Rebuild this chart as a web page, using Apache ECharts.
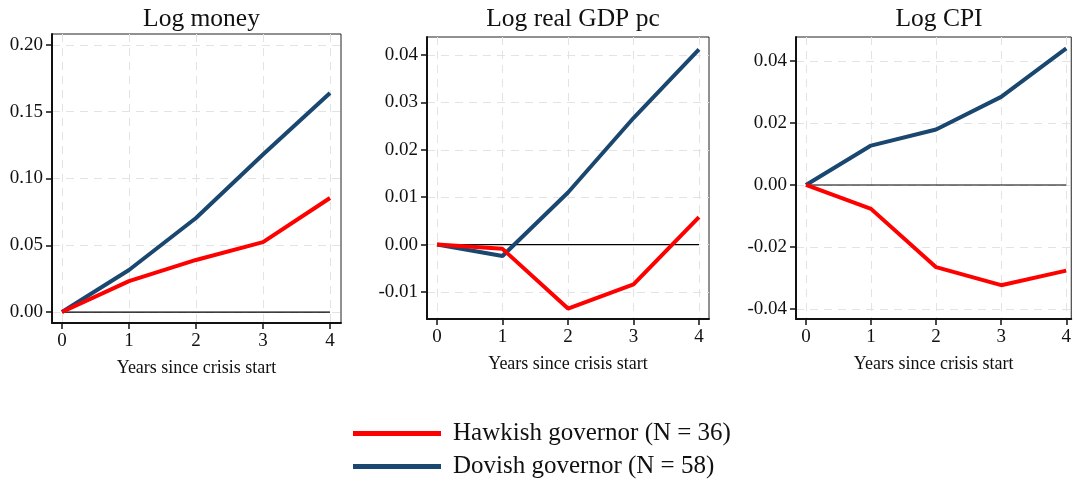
<!DOCTYPE html>
<html>
<head>
<meta charset="utf-8">
<script src="https://cdn.jsdelivr.net/npm/echarts@6/dist/echarts.min.js"></script>
<style>
html,body{margin:0;padding:0;background:#fff;}
#chart{width:1074px;height:481px;}
</style>
</head>
<body>
<div id="chart"></div>
<script>
// ---- data ----
const years = [0, 1, 2, 3, 4];
const seriesNames = ['Hawkish governor (N = 36)', 'Dovish governor (N = 58)'];
const panelTitles = ['Log money', 'Log real GDP pc', 'Log CPI'];
const xAxisTitle = 'Years since crisis start';

const moneyHawkish = [0, 0.0232, 0.0390, 0.0524, 0.0854];
const moneyDovish  = [0, 0.0315, 0.0704, 0.1180, 0.1640];
const gdpHawkish   = [0, -0.0009, -0.0135, -0.0084, 0.0058];
const gdpDovish    = [0, -0.0024, 0.0110, 0.0267, 0.0412];
const cpiHawkish   = [0, -0.0077, -0.0265, -0.0323, -0.0276];
const cpiDovish    = [0, 0.0127, 0.0179, 0.0284, 0.0440];
const zeroLine     = [0, 0, 0, 0, 0];

const moneyTicks = [0, 0.05, 0.10, 0.15, 0.20];
const gdpTicks   = [-0.01, 0, 0.01, 0.02, 0.03, 0.04];
const cpiTicks   = [-0.04, -0.02, 0, 0.02, 0.04];
const xTicks     = [0, 1, 2, 3, 4];

// ---- layout ----
const FONT = 'Liberation Serif';
const RED = '#ff0000';
const NAVY = '#1a476f';
const panels = [
  {grid:{left:52, top:34, width:289, height:289}, xMin:-0.149, xMax:4.164, yMin:-0.0082, yMax:0.2082, ticks:moneyTicks, hawk:moneyHawkish, dove:moneyDovish},
  {grid:{left:427, top:37, width:282, height:282}, xMin:-0.153, xMax:4.153, yMin:-0.0157, yMax:0.0438, ticks:gdpTicks, hawk:gdpHawkish, dove:gdpDovish},
  {grid:{left:796, top:37, width:276, height:282}, xMin:-0.153, xMax:4.077, yMin:-0.0432, yMax:0.0477, ticks:cpiTicks, hawk:cpiHawkish, dove:cpiDovish}
];

const pairs = arr => years.map((x, i) => [x, arr[i]]);
const gridLine = {show:true, lineStyle:{color:'#e3e3e3', width:1, type:[8,6]}};

const option = {
  animation:false,
  backgroundColor:'#fff',
  title: panels.map((p, i) => ({
    text: panelTitles[i],
    left: p.grid.left + p.grid.width/2,
    top: 1,
    textAlign:'center',
    textStyle:{fontFamily:FONT, fontSize:25.5, fontWeight:'normal', color:'#111'}
  })),
  grid: panels.map(p => Object.assign({show:true, borderColor:'#222', borderWidth:1, backgroundColor:'#fff', containLabel:false}, p.grid)),
  xAxis: panels.map((p, i) => ({
    type:'value', gridIndex:i, min:p.xMin, max:p.xMax,
    name: xAxisTitle, nameLocation:'middle', nameGap:36,
    nameTextStyle:{fontFamily:FONT, fontSize:18, color:'#111'},
    axisLine:{show:true, onZero:false, lineStyle:{color:'#111', width:2}},
    axisTick:{show:true, inside:false, length:6, lineStyle:{color:'#111', width:1.5}, customValues:xTicks},
    axisLabel:{fontFamily:FONT, fontSize:19, color:'#111', margin:9, customValues:xTicks, formatter:v => String(v)},
    splitLine:gridLine
  })),
  yAxis: panels.map((p, i) => ({
    type:'value', gridIndex:i, min:p.yMin, max:p.yMax,
    axisLine:{show:true, onZero:false, lineStyle:{color:'#111', width:2}},
    axisTick:{show:true, inside:false, length:6, lineStyle:{color:'#111', width:1.5}, customValues:p.ticks},
    axisLabel:{fontFamily:FONT, fontSize:19, color:'#111', margin:9, customValues:p.ticks, formatter:v => v.toFixed(2)},
    splitLine:gridLine
  })),
  legend:{
    data: seriesNames,
    orient:'vertical', left:353, top:421, padding:0, height:70,
    icon:'rect', itemWidth:88, itemHeight:5, itemGap:8,
    textStyle:{fontFamily:FONT, fontSize:25, lineHeight:25, color:'#111', padding:[0,0,0,7]}
  },
  series: []
};

panels.forEach((p, i) => {
  option.series.push({
    type:'line', xAxisIndex:i, yAxisIndex:i, data:pairs(zeroLine), symbol:'none', silent:true,
    lineStyle:{color:'#000', width:1.2}, z:1
  });
  option.series.push({
    name:seriesNames[1], type:'line', xAxisIndex:i, yAxisIndex:i, data:pairs(p.dove), symbol:'none',
    color:NAVY, lineStyle:{color:NAVY, width:4}, z:3
  });
  option.series.push({
    name:seriesNames[0], type:'line', xAxisIndex:i, yAxisIndex:i, data:pairs(p.hawk), symbol:'none',
    color:RED, lineStyle:{color:RED, width:4}, z:4
  });
});

const chart = echarts.init(document.getElementById('chart'), null, {renderer:'canvas'});
chart.setOption(option);
</script>
</body>
</html>
